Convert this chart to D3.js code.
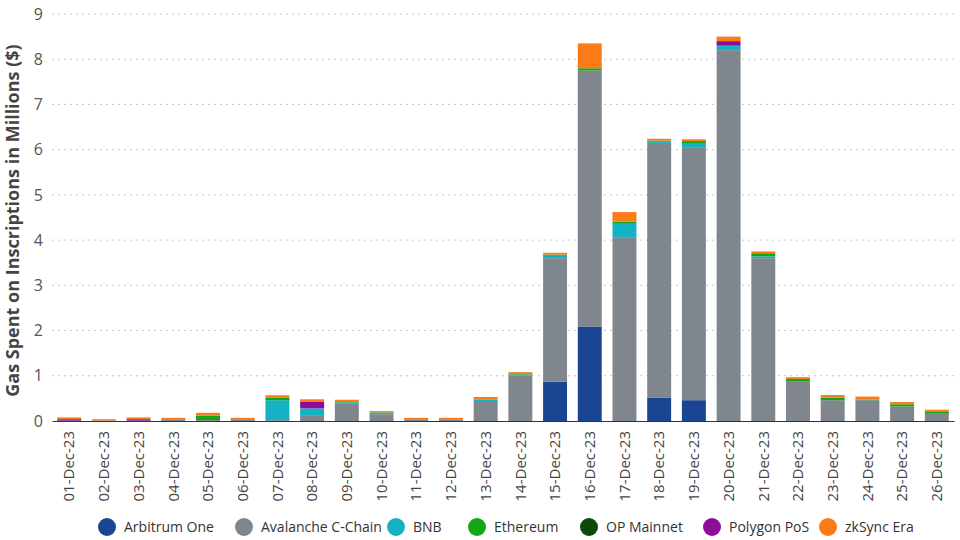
<!DOCTYPE html>
<html><head><meta charset="utf-8">
<script src="https://cdn.jsdelivr.net/npm/d3@7"></script>
<style>
body{margin:0;background:#fff;}
svg{font-family:"Open Sans",sans-serif;}
</style></head>
<body><svg id="c" width="960" height="540"></svg>
<script>
const dates = ["01-Dec-23","02-Dec-23","03-Dec-23","04-Dec-23","05-Dec-23","06-Dec-23","07-Dec-23","08-Dec-23","09-Dec-23","10-Dec-23","11-Dec-23","12-Dec-23","13-Dec-23","14-Dec-23","15-Dec-23","16-Dec-23","17-Dec-23","18-Dec-23","19-Dec-23","20-Dec-23","21-Dec-23","22-Dec-23","23-Dec-23","24-Dec-23","25-Dec-23","26-Dec-23"];
const seriesNames = ["Arbitrum One","Avalanche C-Chain","BNB","Ethereum","OP Mainnet","Polygon PoS","zkSync Era"];
const seriesColors = ["#1a4592","#7f868e","#14b3c4","#14a614","#0b4a0b","#8e0c9a","#fb7b18"];
const arbitrum  = [0.01,0,0.01,0,0,0,0,0,0,0,0,0,0,0,0.87,2.09,0,0.52,0.46,0,0,0,0,0,0,0];
const avalanche = [0,0.01,0,0.04,0.02,0.04,0.02,0.13,0.38,0.15,0.04,0.04,0.42,1.0,2.73,5.66,4.05,5.63,5.58,8.2,3.6,0.88,0.46,0.46,0.32,0.16];
const bnb       = [0,0,0,0,0,0,0.44,0.15,0.03,0.03,0,0,0.05,0.03,0.07,0,0.31,0.04,0.09,0.1,0.04,0,0,0,0,0];
const ethereum  = [0,0,0,0,0.1,0,0.05,0,0.01,0.01,0,0,0.01,0.01,0.01,0.05,0.05,0.01,0.06,0,0.07,0.05,0.06,0.01,0.05,0.04];
const opMainnet = [0,0,0,0,0,0,0,0,0,0,0,0,0,0,0,0,0,0,0,0,0,0,0,0,0,0];
const polygon   = [0.03,0,0.03,0,0,0,0,0.14,0,0,0,0,0,0,0,0,0,0,0,0.1,0,0,0,0,0,0];
const zksync    = [0.04,0.03,0.04,0.03,0.06,0.03,0.06,0.06,0.05,0.03,0.03,0.03,0.05,0.04,0.04,0.55,0.21,0.04,0.04,0.1,0.04,0.04,0.055,0.07,0.05,0.05];
const yTicks = [0,1,2,3,4,5,6,7,8,9];
const yTitle = "Gas Spent on Inscriptions in Millions ($)";

const seriesVals = [arbitrum,avalanche,bnb,ethereum,opMainnet,polygon,zksync];
const rows = dates.map((d,i)=>{const r={date:d}; seriesNames.forEach((s,j)=>r[s]=seriesVals[j][i]); return r;});

const svg = d3.select("#c");
const m = {l:52,r:6,t:14,b:119};
const W=960,H=540;
const x = d3.scaleBand().domain(dates).range([m.l,W-m.r]).paddingInner(0.31).paddingOuter(0.15);
const y = d3.scaleLinear().domain([0,9]).range([H-m.b,m.t]);
const color = d3.scaleOrdinal().domain(seriesNames).range(seriesColors);

// grid
svg.append("g").selectAll("line").data(yTicks.filter(t=>t>0)).join("line")
  .attr("x1",m.l).attr("x2",W-m.r).attr("y1",d=>y(d)).attr("y2",d=>y(d))
  .attr("stroke","#c8c8c8").attr("stroke-dasharray","2,4").attr("stroke-width",1);

// y axis
const ya = svg.append("g").attr("transform",`translate(${m.l},0)`)
  .call(d3.axisLeft(y).tickValues(yTicks).tickSize(0).tickPadding(9).tickFormat(d3.format("d")));
ya.select(".domain").remove();
ya.selectAll("text").attr("font-size",16).attr("fill","#555").attr("font-family","Open Sans");

// bars
const stacked = d3.stack().keys(seriesNames)(rows);
svg.append("g").selectAll("g").data(stacked).join("g").attr("fill",d=>color(d.key))
  .selectAll("rect").data(d=>d).join("rect")
  .attr("x",d=>x(d.data.date)).attr("width",x.bandwidth())
  .attr("y",d=>y(d[1])).attr("height",d=>Math.max(0,y(d[0])-y(d[1])));

// x axis
const xa = svg.append("g").attr("transform",`translate(0,${H-m.b})`)
  .call(d3.axisBottom(x).tickSize(0).tickPadding(10));
xa.select(".domain").attr("stroke","#333").attr("stroke-width",1.2);
xa.selectAll(".tick text").attr("font-size",15).attr("fill","#444").attr("font-family","Open Sans")
  .attr("transform","rotate(-90)").attr("text-anchor","end").attr("x",-10).attr("y",0).attr("dy","0.35em").attr("dx",0);

// y title
svg.append("text").attr("transform",`translate(19,${(m.t+H-m.b)/2+3}) rotate(-90)`)
  .attr("text-anchor","middle").attr("font-size",18).attr("font-weight","bold").attr("fill","#444")
  .attr("font-family","Open Sans").text(yTitle);

// legend
const legX = [107,244,396,477,589,712,828];
const lg = svg.append("g").selectAll("g").data(seriesNames).join("g")
  .attr("transform",(d,i)=>`translate(${legX[i]},527)`);
lg.append("circle").attr("r",9).attr("fill",d=>color(d));
lg.append("text").attr("x",17).attr("dy","0.35em").attr("font-size",14).attr("fill","#333")
  .attr("font-family","Open Sans").text(d=>d);
</script></body></html>
